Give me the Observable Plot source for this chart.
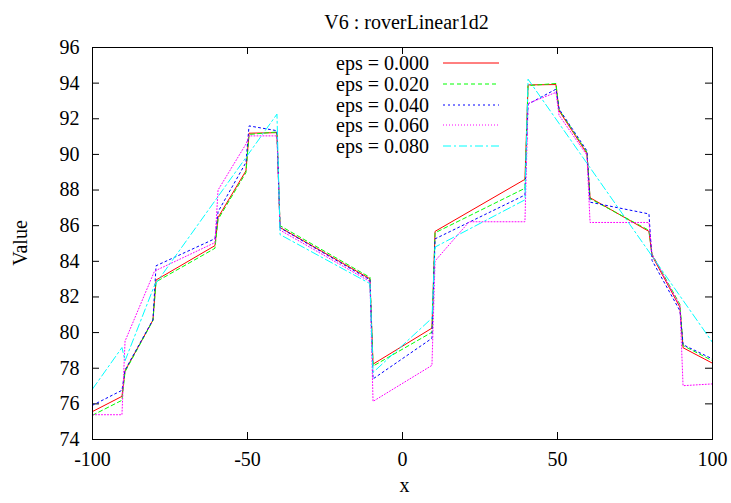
<!DOCTYPE html>
<html><head><meta charset="utf-8">
<script src="https://cdn.jsdelivr.net/npm/d3@7"></script>
<script src="https://cdn.jsdelivr.net/npm/@observablehq/plot@0.6"></script>
<style>
html,body{margin:0;padding:0;background:#fff;}
#wrap{position:relative;width:731px;height:503px;font-family:"Liberation Serif","Times New Roman",serif;}
.lg-text{position:absolute;font-size:20px;line-height:22px;text-align:right;white-space:nowrap;color:#000;}
.lg-line{position:absolute;}
.ylab{position:absolute;font-size:20px;line-height:22px;white-space:nowrap;color:#000;transform:translate(-50%,-50%) rotate(-90deg);}
</style></head><body><div id="wrap"></div>
<script>
// ---- data ----
const title = "V6 : roverLinear1d2";
const xLabel = "x";
const yLabel = "Value";
const xTicks = [-100, -50, 0, 50, 100];
const yTicks = [74, 76, 78, 80, 82, 84, 86, 88, 90, 92, 94, 96];
const seriesNames = ["eps = 0.000", "eps = 0.020", "eps = 0.040", "eps = 0.060", "eps = 0.080"];

const xGrid = [-100, -90.5, -89.5, -80.5, -79.5, -60.5, -59.5, -50.5, -49.5, -40.5, -39.5, -10.5, -9.5, 9.5, 10.5, 39.5, 40.5, 49.5, 50.5, 59.5, 60.5, 79.5, 80.5, 89.5, 90.5, 100];
const yEps000 = [75.57, 76.42, 77.86, 80.70, 82.95, 84.88, 86.46, 89.08, 91.19, 91.22, 85.90, 83.02, 78.23, 80.25, 85.68, 88.60, 93.90, 93.92, 92.45, 90.05, 87.57, 85.68, 84.32, 81.42, 79.15, 78.28];
const yEps020 = [75.36, 76.20, 77.80, 80.68, 82.85, 84.73, 86.35, 88.98, 91.12, 91.26, 86.00, 83.10, 78.12, 80.02, 85.60, 88.10, 93.86, 93.98, 92.52, 90.12, 87.52, 85.74, 84.40, 81.58, 79.27, 78.42];
const yEps040 = [75.92, 76.76, 77.90, 80.72, 83.75, 85.27, 86.78, 89.55, 91.60, 91.33, 85.88, 82.96, 77.40, 79.68, 85.26, 87.72, 92.82, 93.66, 92.55, 90.20, 87.32, 86.66, 84.05, 81.22, 79.32, 78.52];

const xEps060 = [-100, -90.5, -89.5, -80, -60.5, -59.5, -50.5, -49.5, -40.5, -39.5, -10.5, -9.5, 9.5, 10.5, 21.5, 39.5, 40.5, 49.5, 50.5, 59.5, 60.5, 79.5, 80.5, 89.5, 90.5, 100];
const yEps060 = [75.39, 75.39, 79.52, 83.45, 85.05, 88.00, 90.58, 91.04, 91.04, 85.75, 82.86, 76.14, 78.16, 84.02, 86.22, 86.22, 92.86, 93.48, 92.20, 89.95, 86.18, 86.18, 84.40, 81.50, 77.02, 77.12];

const xEps080 = [-100, -90.5, -89.5, -80, -40.5, -39.5, -10.5, -9.5, 9.5, 10.5, 39.5, 40.5, 100];
const yEps080 = [76.83, 79.16, 78.42, 82.65, 92.26, 85.50, 82.75, 77.76, 80.81, 84.80, 87.45, 94.22, 79.45];

// ---- styles ----
const W = 731, H = 503;
const mL = 92, mR = 19, mT = 47, mB = 64;
const innerW = W - mL - mR, innerH = H - mT - mB;
const tickLen = 7;
const styles = [
  {stroke: "#ff0000", dash: null},
  {stroke: "#00ff00", dash: "4,3"},
  {stroke: "#0000ff", dash: "2,3"},
  {stroke: "#ff00ff", dash: "1,2"},
  {stroke: "#00ffff", dash: "8,3,2,3"}
];

const seriesXY = [
  [xGrid, yEps000],
  [xGrid, yEps020],
  [xGrid, yEps040],
  [xEps060, yEps060],
  [xEps080, yEps080]
];

const lineMarks = seriesXY.map(([xs, ys], i) => {
  const rows = xs.map((x, j) => ({x, y: ys[j]}));
  return Plot.line(rows, {x: "x", y: "y", stroke: styles[i].stroke, strokeWidth: 1,
    strokeDasharray: styles[i].dash, curve: "linear"});
});

const chart = Plot.plot({
  width: W, height: H,
  marginLeft: mL, marginRight: mR, marginTop: mT, marginBottom: mB,
  style: {fontFamily: '"Liberation Serif", "Times New Roman", serif', fontSize: "20px", background: "white", color: "black", overflow: "visible"},
  x: {domain: [-100, 100], label: null},
  y: {domain: [74, 96], label: null},
  marks: [
    // ticks (inward, mirrored)
    Plot.ruleX(xTicks, {x: d => d, insetTop: innerH - tickLen, stroke: "black"}),
    Plot.ruleX(xTicks, {x: d => d, insetBottom: innerH - tickLen, stroke: "black"}),
    Plot.ruleY(yTicks, {y: d => d, insetRight: innerW - tickLen, stroke: "black"}),
    Plot.ruleY(yTicks, {y: d => d, insetLeft: innerW - tickLen, stroke: "black"}),
    Plot.axisX({ticks: xTicks, tickSize: 0, tickPadding: 12, label: null, tickFormat: d => String(d), fontSize: 20}),
    Plot.axisY({ticks: yTicks, tickSize: 0, tickPadding: 13, label: null, tickFormat: d => String(d), fontSize: 20}),
    ...lineMarks,
    Plot.frame({stroke: "black", strokeWidth: 1}),
    Plot.text([title], {frameAnchor: "top", dy: -33, dx: 4, fontSize: 20}),
    Plot.text([xLabel], {frameAnchor: "bottom", dy: 52, dx: 2, fontSize: 20})
  ]
});

const wrap = document.getElementById("wrap");
wrap.appendChild(chart);

// y-axis label
const yl = document.createElement("div");
yl.className = "ylab";
yl.textContent = yLabel;
yl.style.left = "20px";
yl.style.top = ((mT + H - mB) / 2) + "px";
wrap.appendChild(yl);

// legend (inside the plot, top centre)
const lgRight = 429, lgLineX = 443, lgLineW = 56, lgTop = 63.3, lgStep = 20.7;
seriesNames.forEach((name, i) => {
  const cy = lgTop + i * lgStep;
  const t = document.createElement("div");
  t.className = "lg-text";
  t.textContent = name;
  t.style.right = (W - lgRight) + "px";
  t.style.top = (cy - 11) + "px";
  wrap.appendChild(t);
  const ns = "http://www.w3.org/2000/svg";
  const s = document.createElementNS(ns, "svg");
  s.setAttribute("class", "lg-line");
  s.setAttribute("width", lgLineW);
  s.setAttribute("height", 4);
  s.style.left = lgLineX + "px";
  s.style.top = (cy - 2) + "px";
  const l = document.createElementNS(ns, "line");
  l.setAttribute("x1", 0); l.setAttribute("x2", lgLineW);
  l.setAttribute("y1", 2); l.setAttribute("y2", 2);
  l.setAttribute("stroke", styles[i].stroke);
  if (styles[i].dash) l.setAttribute("stroke-dasharray", styles[i].dash);
  s.appendChild(l);
  wrap.appendChild(s);
});
</script></body></html>
